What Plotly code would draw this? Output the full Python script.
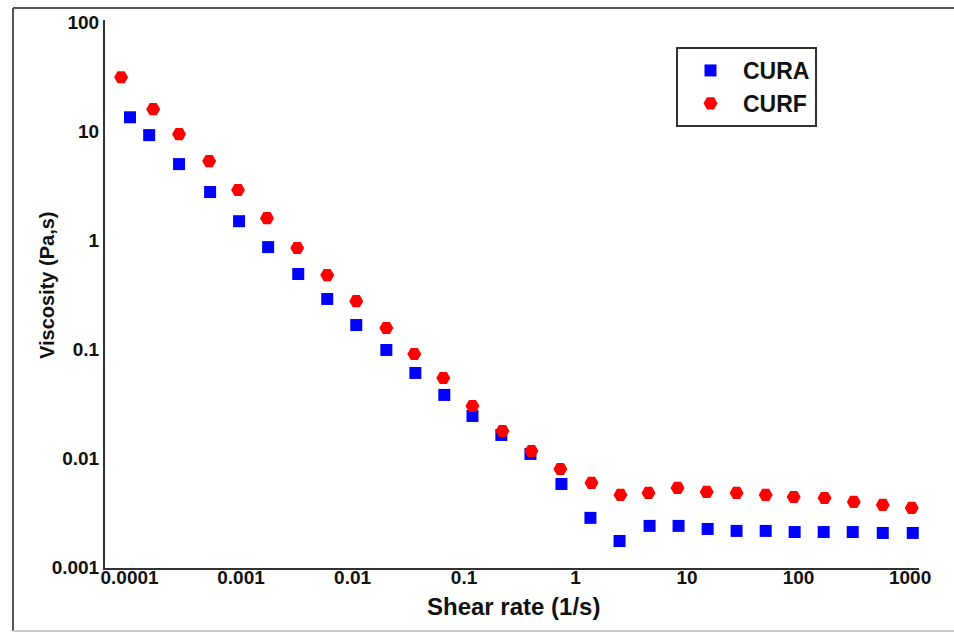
import plotly.graph_objects as go

# ---- data ----
cura_rate = [1.01e-4, 1.50e-4, 2.78e-4, 5.28e-4, 9.6e-4, 1.75e-3, 3.26e-3, 5.93e-3,
             0.0108, 0.0201, 0.0366, 0.0665, 0.119, 0.216, 0.394, 0.747,
             1.36, 2.48, 4.61, 8.39, 15.3, 27.8, 50.7, 92.2, 168, 306, 569, 1057]
cura_visc = [13.4, 9.19, 4.98, 2.76, 1.49, 0.862, 0.488, 0.288,
             0.166, 0.098, 0.0603, 0.0379, 0.0243, 0.01626, 0.01089, 0.00577,
             0.00282, 0.00173, 0.00238, 0.00238, 0.00223, 0.00214, 0.00214, 0.00209,
             0.00209, 0.00209, 0.00205, 0.00205]

curf_rate = [8.4e-5, 1.63e-4, 2.78e-4, 5.18e-4, 9.4e-4, 1.71e-3, 3.19e-3, 5.93e-3,
             0.0108, 0.0201, 0.0358, 0.0652, 0.119, 0.221, 0.402, 0.731,
             1.39, 2.53, 4.51, 8.22, 15.0, 27.8, 50.7, 90.4, 171, 313, 569, 1035]
curf_visc = [31.2, 15.9, 9.38, 5.31, 2.88, 1.59, 0.845, 0.477,
             0.275, 0.156, 0.0899, 0.0542, 0.030, 0.0177, 0.0116, 0.00792,
             0.0059, 0.00458, 0.00478, 0.00531, 0.00488, 0.00478, 0.00458, 0.00438,
             0.00429, 0.00395, 0.00371, 0.00348]

x_tickvals = [0.0001, 0.001, 0.01, 0.1, 1, 10, 100, 1000]
x_ticktext = ["0.0001", "0.001", "0.01", "0.1", "1", "10", "100", "1000"]
y_tickvals = [0.001, 0.01, 0.1, 1, 10, 100]
y_ticktext = ["0.001", "0.01", "0.1", "1", "10", "100"]

x_title = "Shear rate (1/s)"
y_title = "Viscosity (Pa,s)"

# ---- layout geometry ----
W, H = 954, 633
ML, MR, MT, MB = 105, 35, 20, 65
PW, PH = W - ML - MR, H - MT - MB


def px(xp):
    return (xp - ML) / PW


def py(yp):
    return (H - MB - yp) / PH


FONT = "Liberation Sans, Arial, sans-serif"
TXT = "#111111"

fig = go.Figure()
fig.add_trace(go.Scatter(
    x=cura_rate, y=cura_visc, mode="markers", name="CURA",
    marker=dict(symbol="square", size=12, color="#0000FF", line=dict(width=0)),
))
fig.add_trace(go.Scatter(
    x=curf_rate, y=curf_visc, mode="markers", name="CURF",
    marker=dict(symbol="hexagon2", size=14, color="#FF0000", line=dict(width=0)),
))

fig.update_xaxes(
    type="log", range=[-4.22, 3.08],
    tickvals=x_tickvals, ticktext=x_ticktext,
    showgrid=False, zeroline=False, ticks="",
    ticklabelstandoff=-9,
    showline=True, linecolor="#333333", linewidth=2,
    tickfont=dict(family=FONT, size=19, color=TXT, weight="bold"),
)
fig.update_yaxes(
    type="log", range=[-3.01, 2.02],
    tickvals=y_tickvals, ticktext=y_ticktext,
    showgrid=False, zeroline=False, ticks="",
    showline=True, linecolor="#333333", linewidth=2,
    tickfont=dict(family=FONT, size=19, color=TXT, weight="bold"),
)

fig.update_layout(
    width=W, height=H,
    margin=dict(l=ML, r=MR, t=MT, b=MB, autoexpand=False),
    paper_bgcolor="white", plot_bgcolor="white",
    showlegend=True,
    legend=dict(
        x=px(676), y=py(87), xanchor="left", yanchor="middle",
        bordercolor="#333333", borderwidth=2, bgcolor="white",
        font=dict(family=FONT, size=23, color=TXT, weight="bold"),
        itemwidth=55, tracegroupgap=0,
    ),
    annotations=[
        dict(text=x_title, xref="paper", yref="paper", x=px(513), y=py(606),
             xanchor="center", yanchor="middle", showarrow=False,
             font=dict(family=FONT, size=24, color=TXT, weight="bold")),
        dict(text=y_title, xref="paper", yref="paper", x=px(47), y=py(285),
             xanchor="center", yanchor="middle", showarrow=False, textangle=-90,
             font=dict(family=FONT, size=20, color=TXT, weight="bold")),
    ],
    shapes=[
        dict(type="line", xref="paper", yref="paper", x0=px(13), x1=px(954), y0=py(8), y1=py(8),
             line=dict(color="#555555", width=2)),
        dict(type="line", xref="paper", yref="paper", x0=px(13), x1=px(13), y0=py(8), y1=py(631),
             line=dict(color="#555555", width=2)),
        dict(type="line", xref="paper", yref="paper", x0=px(13), x1=px(954), y0=py(631), y1=py(631),
             line=dict(color="#CCCCCC", width=2)),
    ],
)

fig.write_html("out.html")
